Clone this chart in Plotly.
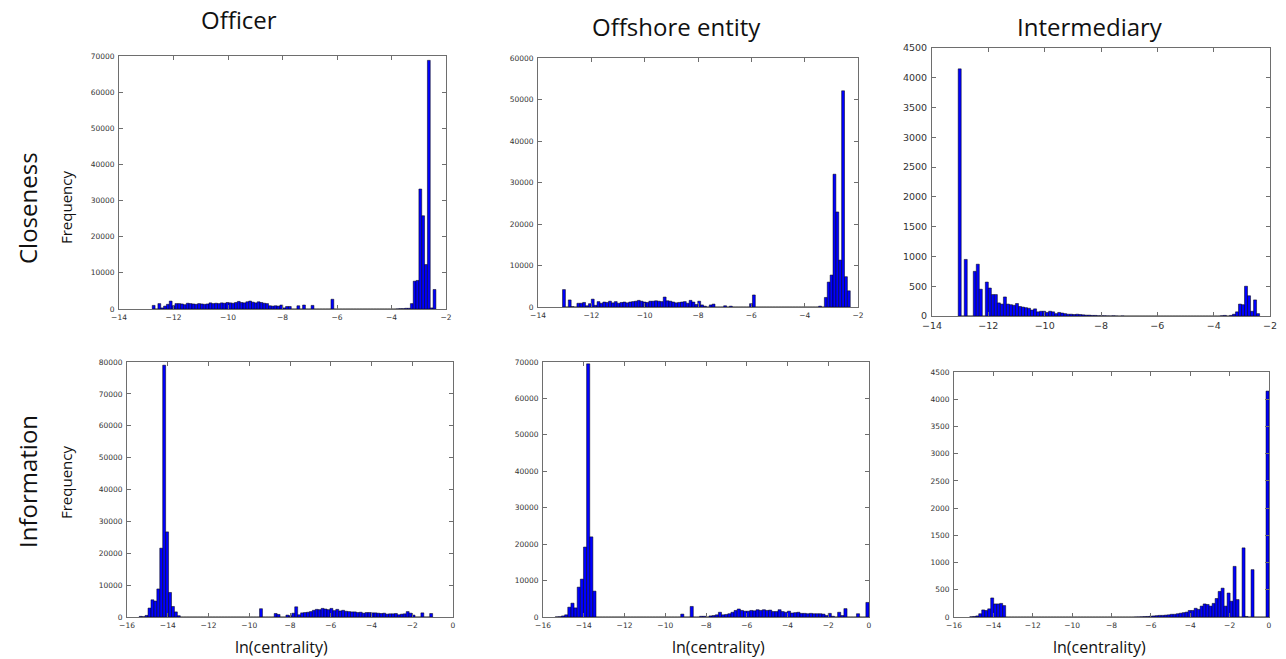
import numpy as np
import plotly.graph_objects as go

W, H = 1286, 659

# ---------------- data (histogram counts, 100 bins each) ----------------
officer_closeness_range = (-12.78, -2.37)
officer_closeness = [
    1000, 0, 1500, 300, 800, 1300, 2200, 900, 1500, 1500,
    1400, 1200, 1600, 1500, 1400, 1300, 1500, 1400, 1300, 1400,
    1700, 1500, 1600, 1500, 1700, 1600, 1800, 1700, 1600, 1800,
    2100, 1800, 1700, 2000, 2200, 1900, 1700, 2000, 1800, 1600,
    1500, 900, 800, 900, 800, 1100, 300, 700, 700, 0,
    0, 900, 0, 1100, 0, 0, 1000, 0, 0, 0,
    0, 0, 0, 2700, 0, 0, 0, 0, 0, 0,
    0, 0, 0, 0, 0, 0, 0, 0, 0, 0,
    0, 0, 0, 0, 0, 0, 50, 100, 100, 200,
    200, 1500, 7700, 7900, 33200, 25800, 12300, 68800, 300, 5400,
]

offshore_closeness_range = (-13.08, -2.29)
offshore_closeness = [
    4200, 0, 1700, 100, 0, 900, 900, 1100, 300, 800,
    1900, 400, 1300, 900, 1200, 1100, 1400, 1000, 1300, 900,
    1100, 1200, 1000, 1200, 1300, 1400, 1600, 1400, 1200, 1100,
    1400, 1400, 1500, 1400, 1300, 2400, 1500, 1400, 1200, 1000,
    1100, 1200, 1300, 900, 1600, 1200, 600, 1400, 500, 200,
    0, 500, 700, 0, 0, 0, 300, 0, 200, 0,
    0, 0, 0, 0, 0, 800, 2900, 0, 0, 0,
    0, 0, 0, 0, 0, 0, 0, 0, 0, 0,
    0, 0, 0, 0, 0, 0, 0, 0, 0, 200,
    0, 2300, 6000, 7700, 32000, 22900, 11300, 52100, 7300, 3900,
]

intermediary_closeness_range = (-13.07, -2.37)
intermediary_closeness = [
    4150, 0, 950, 0, 0, 750, 870, 450, 0, 570,
    470, 360, 360, 220, 200, 320, 200, 190, 180, 210,
    160, 150, 140, 130, 100, 120, 70, 80, 80, 60,
    80, 70, 40, 60, 50, 40, 30, 30, 25, 30,
    25, 20, 15, 15, 10, 10, 5, 5, 5, 3,
    2, 5, 2, 0, 3, 0, 0, 0, 0, 0,
    0, 0, 0, 0, 0, 0, 0, 0, 0, 0,
    0, 0, 0, 0, 0, 0, 0, 0, 0, 0,
    0, 0, 0, 0, 0, 0, 0, 5, 10, 0,
    10, 30, 70, 200, 190, 500, 340, 80, 270, 40,
]

officer_information_range = (-15.4, -1.0)
officer_information = [
    200, 100, 500, 2800, 5400, 5000, 8800, 21600, 79000, 26700,
    7700, 3300, 1600, 400, 0, 0, 0, 0, 0, 0,
    0, 0, 0, 0, 0, 0, 0, 0, 0, 0,
    0, 0, 0, 0, 0, 0, 0, 0, 0, 0,
    0, 2600, 0, 0, 0, 0, 1100, 800, 0, 0,
    600, 400, 1200, 3200, 700, 1300, 1400, 1500, 1700, 2100,
    2400, 2300, 2700, 2500, 2300, 2700, 2000, 2400, 1900, 2100,
    1800, 1700, 1600, 1600, 1400, 1500, 1200, 1400, 1400, 1300,
    1300, 1200, 1100, 1200, 900, 1000, 1000, 1100, 700, 900,
    1000, 1700, 1200, 600, 0, 0, 1300, 0, 0, 1100,
]

offshore_information_range = (-15.4, 0.0)
offshore_information = [
    50, 100, 300, 600, 2700, 3800, 2500, 8200, 10400, 19200,
    69500, 22000, 7100, 0, 0, 0, 0, 0, 0, 0,
    0, 0, 0, 0, 0, 0, 0, 0, 0, 0,
    0, 0, 0, 0, 0, 0, 0, 0, 0, 0,
    800, 0, 0, 2900, 0, 0, 200, 200, 0, 300,
    400, 600, 1300, 600, 700, 900, 1300, 1800, 2200, 1800,
    1600, 1600, 1800, 1700, 2000, 1800, 2000, 1800, 1900, 1500,
    1500, 2000, 1500, 1300, 1600, 1100, 1200, 1300, 1000, 1000,
    900, 1000, 900, 900, 900, 800, 400, 1000, 200, 0,
    1300, 400, 2300, 0, 0, 0, 900, 0, 0, 4000,
]

intermediary_information_range = (-15.2, 0.0)
intermediary_information = [
    5, 10, 20, 60, 130, 120, 150, 350, 240, 240,
    250, 210, 0, 0, 0, 0, 0, 0, 0, 0,
    0, 0, 0, 0, 0, 0, 0, 0, 0, 0,
    0, 0, 0, 0, 0, 0, 0, 0, 0, 0,
    0, 0, 0, 0, 0, 0, 0, 0, 0, 0,
    0, 0, 0, 0, 0, 2, 3, 5, 8, 10,
    15, 20, 25, 30, 30, 35, 40, 50, 50, 60,
    70, 80, 90, 120, 120, 160, 140, 200, 240, 230,
    200, 250, 340, 470, 530, 200, 440, 290, 930, 320,
    0, 1270, 10, 0, 870, 0, 0, 0, 0, 4150,
]

column_titles = ["Officer", "Offshore entity", "Intermediary"]
row_titles = ["Closeness", "Information"]
y_label = "Frequency"
x_label = "ln(centrality)"

# ---------------- panel layout (page pixels) ----------------
panels = [
    dict(counts=officer_closeness, rng=officer_closeness_range,
         box=(119, 446, 56, 309), xr=(-14, -2), yr=(0, 70000), dy=10000, fs=7.5),
    dict(counts=offshore_closeness, rng=offshore_closeness_range,
         box=(538, 858, 58, 307), xr=(-14, -2), yr=(0, 60000), dy=10000, fs=7.5),
    dict(counts=intermediary_closeness, rng=intermediary_closeness_range,
         box=(932, 1270, 48, 316), xr=(-14, -2), yr=(0, 4500), dy=500, fs=9.5),
    dict(counts=officer_information, rng=officer_information_range,
         box=(127, 453, 362, 617), xr=(-16, 0), yr=(0, 80000), dy=10000, fs=7.5),
    dict(counts=offshore_information, rng=offshore_information_range,
         box=(543, 869, 362, 617), xr=(-16, 0), yr=(0, 70000), dy=10000, fs=7.5),
    dict(counts=intermediary_information, rng=intermediary_information_range,
         box=(954, 1269, 372, 617), xr=(-16, 0), yr=(0, 4500), dy=500, fs=7.5),
]


def fx(px):
    return px / W


def fy(py):
    return 1 - py / H


fig = go.Figure()
layout = dict(
    template="none",
    width=W, height=H, autosize=False,
    margin=dict(l=0, r=0, t=0, b=0, pad=0),
    paper_bgcolor="white", plot_bgcolor="white",
    showlegend=False, bargap=0,
)

for i, p in enumerate(panels, start=1):
    counts = np.array(p["counts"], dtype=float)
    edges = np.linspace(p["rng"][0], p["rng"][1], len(counts) + 1)
    centers = (edges[:-1] + edges[1:]) / 2
    width = edges[1] - edges[0]
    sfx = "" if i == 1 else str(i)
    fig.add_trace(go.Bar(
        x=centers, y=counts, width=width,
        marker=dict(color="#0000ff", line=dict(color="#000000", width=0.5)),
        xaxis="x" + sfx, yaxis="y" + sfx, hoverinfo="skip",
    ))
    x0, x1, y0, y1 = p["box"]
    common = dict(
        showline=True, mirror="allticks", linecolor="#6e6e6e", linewidth=1,
        ticks="inside", ticklen=4, tickwidth=1, tickcolor="#6e6e6e",
        showgrid=False, zeroline=False, fixedrange=True, automargin=False,
        tickfont=dict(family="DejaVu Sans", size=p["fs"], color="#333333"),
    )
    layout["xaxis" + sfx] = dict(
        common, domain=[fx(x0), fx(x1)], range=list(p["xr"]),
        tickmode="linear", tick0=p["xr"][0], dtick=2,
        anchor="y" + sfx, ticklabelstandoff=1,
    )
    layout["yaxis" + sfx] = dict(
        common, domain=[fy(y1), fy(y0)], range=list(p["yr"]),
        tickmode="linear", tick0=0, dtick=p["dy"], tickformat="d",
        anchor="x" + sfx, ticklabelstandoff=2,
    )

annotations = []


def txt(text, x, y, size, angle=0):
    annotations.append(dict(
        text=text, x=fx(x), y=fy(y), xref="paper", yref="paper",
        showarrow=False, xanchor="center", yanchor="middle", textangle=angle,
        font=dict(family="Open Sans", size=size, color="#111111"),
    ))


for t, cx, cy in zip(column_titles, [239, 676, 1090], [20, 27, 27]):
    txt(t, cx, cy, 24)
for t, cy in zip(row_titles, [208, 482]):
    txt(t, 27, cy, 24, -90)
for cy in [208, 483]:
    txt(y_label, 66, cy, 15, -90)
for cx in [281, 718, 1099]:
    txt(x_label, cx, 647, 16)

layout["annotations"] = annotations
fig.update_layout(**layout)
fig.write_html(
    "out.html",
    config={"displayModeBar": False, "staticPlot": True},
    post_script="document.body.style.margin='0px';"
                "document.body.style.overflow='hidden';",
)
